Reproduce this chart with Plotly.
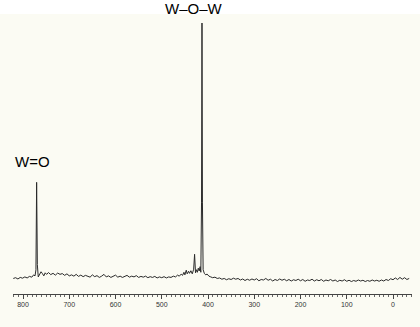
import plotly.graph_objects as go

# Raman-like spectrum (wavenumber, relative intensity)
wavenumber = [821, 816, 811, 806, 801, 796, 791, 786, 781, 777, 774, 772, 770.5, 769, 767,
              764, 761, 758, 755, 752, 749, 745, 740, 735, 730, 725, 720, 715, 710, 705,
              700, 695, 690, 685, 680, 675, 670, 665, 660, 655, 650, 645, 640, 635, 630,
              625, 620, 615, 610, 605, 600, 595, 590, 585, 580, 575, 570, 565, 560, 555,
              550, 545, 540, 535, 530, 525, 520, 515, 510, 505, 500, 495, 490, 485, 480,
              475, 470, 466, 462, 458, 455, 452, 450, 447, 445, 442, 440, 437, 434, 431,
              429, 427, 425, 423, 421, 419, 417, 415.5, 414, 413, 412, 410.5, 408, 405, 402,
              398, 394, 390, 385, 380, 375, 370, 365, 360, 355, 350, 345, 340, 335, 330,
              325, 320, 315, 310, 305, 300, 295, 290, 285, 280, 275, 270, 265, 260, 255,
              250, 245, 240, 235, 230, 225, 220, 215, 210, 205, 200, 195, 190, 185, 180,
              175, 170, 165, 160, 155, 150, 145, 140, 135, 130, 125, 120, 115, 110, 105,
              100, 95, 90, 85, 80, 75, 70, 65, 60, 55, 50, 45, 40, 35, 30,
              25, 20, 15, 10, 5, 0, -5, -10, -15, -20, -25, -30, -35]
intensity = [0.6, 0.9, 0.4, 1.0, 0.7, 1.2, 0.8, 1.4, 1.1, 2.0, 1.6, 4.0, 38.0, 6.0, 1.2,
             2.0, 3.2, 2.5, 1.6, 2.8, 2.2, 2.9, 2.1, 2.6, 1.9, 2.7, 2.2, 2.5, 1.8, 2.4,
             1.6, 2.0, 1.5, 2.2, 1.4, 1.9, 1.3, 1.8, 1.6, 1.1, 2.0, 1.3, 1.7, 1.0, 1.5,
             2.2, 1.2, 1.6, 1.0, 1.4, 1.9, 1.1, 1.5, 1.0, 1.4, 1.8, 1.1, 1.5, 1.2, 1.7,
             1.0, 1.4, 1.1, 1.5, 0.9, 1.3, 1.0, 1.4, 0.8, 1.2, 0.9, 1.3, 0.8, 1.2, 1.0,
             1.5, 1.2, 1.9, 1.5, 2.3, 1.8, 3.0, 2.0, 3.8, 2.4, 3.4, 2.6, 3.6, 2.4, 4.2,
             10.0, 2.8, 4.0, 3.0, 4.6, 3.5, 5.2, 3.0, 30.0, 100.0, 30.0, 4.0, 2.6, 2.0, 2.3,
             1.5, 1.2, 0.9, 1.1, 0.6, 0.8, 0.3, 0.6, 0.1, 0.5, 0.2, 0.7, 0.3, 0.6, 0.0,
             0.4, -0.2, 0.3, -0.1, 0.4, 0.0, 0.5, -0.3, 0.2, 0.0, 0.6, -0.1, 0.3, -0.4, 0.2,
             -0.2, 0.4, -0.1, 0.3, -0.3, 0.2, -0.4, 0.1, -0.2, 0.3, -0.3, 0.2, -0.5, 0.0, -0.2,
             0.3, -0.4, 0.1, -0.3, 0.2, -0.5, 0.0, -0.3, 0.2, -0.4, 0.0, -0.6, -0.1, -0.4, 0.1,
             -0.5, -0.1, -0.6, -0.2, -0.5, 0.0, -0.4, -0.1, -0.6, -0.2, -0.5, 0.0, -0.4, -0.1, -0.5,
             0.0, -0.4, 0.2, -0.2, 0.5, 0.1, 0.8, 0.2, 1.0, 0.3, 0.9, 0.2, 0.6]

tick_values = [800, 700, 600, 500, 400, 300, 200, 100, 0]
tick_labels = ["800", "700", "600", "500", "400", "300", "200", "100", "0"]

label_wo = "W=O"
label_wow = "W\u2013O\u2013W"

W, H = 420, 327
# plot area in pixels
L_PX, R_PX, T_PX, B_PX = 13, 412, 14, 294
# pixel scale: x 800 -> 23 px, 0 -> 393 px
px_per_unit = (393 - 23) / 800.0
x_left = 800 + (23 - L_PX) / px_per_unit
x_right = 0 - (R_PX - 393) / px_per_unit
# y: baseline 0 at 280 px, 100 at 23 px
py_per_unit = (280 - 23) / 100.0
y_top = (280 - T_PX) / py_per_unit
y_bot = (280 - B_PX) / py_per_unit
plot_w = R_PX - L_PX
plot_h = B_PX - T_PX

cream = "#FBFBF3"
font_family = "Liberation Sans, Arial, sans-serif"

fig = go.Figure()
fig.add_trace(go.Scatter(
    x=wavenumber, y=intensity, mode="lines",
    line=dict(color="#2a2a2a", width=1),
    hoverinfo="skip", showlegend=False,
))

fig.update_layout(
    width=W, height=H,
    margin=dict(l=L_PX, r=W - R_PX, t=T_PX, b=H - B_PX, pad=0),
    paper_bgcolor=cream, plot_bgcolor=cream,
    font=dict(family=font_family),
    xaxis=dict(
        range=[x_left, x_right], showgrid=False, zeroline=False,
        showline=True, linecolor="#444", linewidth=1,
        tickmode="array", tickvals=tick_values, ticktext=tick_labels,
        ticks="outside", ticklen=4, tickcolor="#444", tickwidth=1,
        minor=dict(dtick=10, ticks="outside", ticklen=2, tickcolor="#666", tickwidth=1),
        tickfont=dict(size=7, color="#333"),
        automargin=False, fixedrange=True,
    ),
    yaxis=dict(
        range=[y_bot, y_top], visible=False, showgrid=False, zeroline=False,
        automargin=False, fixedrange=True,
    ),
    shapes=[dict(
        type="rect", xref="paper", yref="paper",
        x0=-0.1, x1=1.1, y0=1.0, y1=1.2,
        fillcolor="white", line=dict(width=0), layer="below",
    )],
    annotations=[
        dict(text=label_wow, xref="paper", yref="paper",
             x=(194 - L_PX) / plot_w, y=1 + (T_PX - 8) / plot_h,
             showarrow=False, xanchor="center", yanchor="middle",
             font=dict(size=15, color="black", family=font_family)),
        dict(text=label_wo, xref="paper", yref="paper",
             x=(32 - L_PX) / plot_w, y=1 - (161 - T_PX) / plot_h,
             showarrow=False, xanchor="center", yanchor="middle",
             font=dict(size=15, color="black", family=font_family)),
    ],
)

fig.write_html("out.html", config=dict(displayModeBar=False))
